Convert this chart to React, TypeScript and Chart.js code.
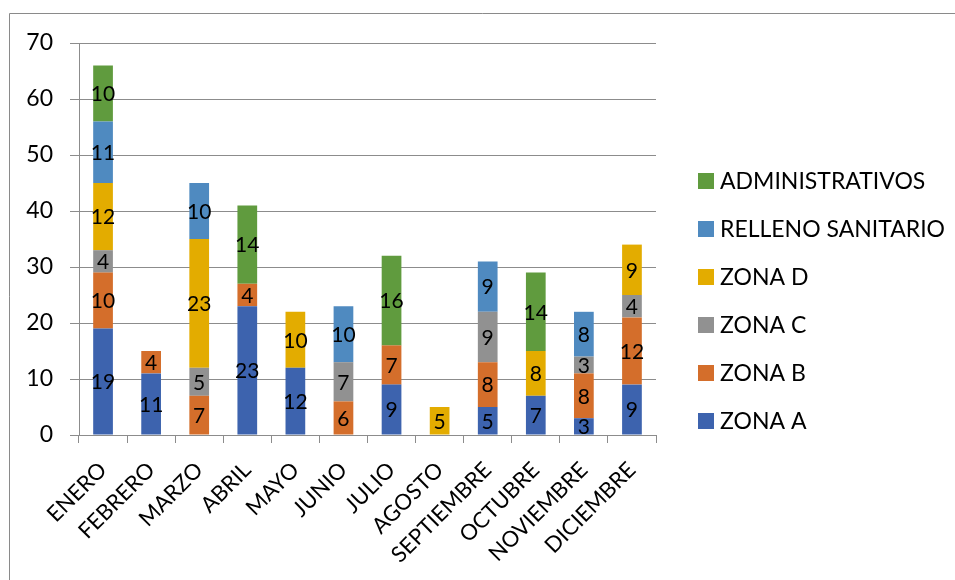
import React, { useEffect, useRef } from "react";
import { Chart, registerables } from "chart.js";

Chart.register(...registerables);

const months = ["ENERO", "FEBRERO", "MARZO", "ABRIL", "MAYO", "JUNIO", "JULIO", "AGOSTO", "SEPTIEMBRE", "OCTUBRE", "NOVIEMBRE", "DICIEMBRE"];
const zonaA = [19, 11, 0, 23, 12, 0, 9, 0, 5, 7, 3, 9];
const zonaB = [10, 4, 7, 4, 0, 6, 7, 0, 8, 0, 8, 12];
const zonaC = [4, 0, 5, 0, 0, 7, 0, 0, 9, 0, 3, 4];
const zonaD = [12, 0, 23, 0, 10, 0, 0, 5, 0, 8, 0, 9];
const relleno = [11, 0, 10, 0, 0, 10, 0, 0, 9, 0, 8, 0];
const administrativos = [10, 0, 0, 14, 0, 0, 16, 0, 0, 14, 0, 0];
const yTicks = [0, 10, 20, 30, 40, 50, 60, 70];

const FONT = "Lato, 'Open Sans', sans-serif";
const GRID = "#8c8c8c";

const seriesDefs = [
  { label: "ZONA A", data: zonaA, color: "#3D63AE" },
  { label: "ZONA B", data: zonaB, color: "#D46E2B" },
  { label: "ZONA C", data: zonaC, color: "#919191" },
  { label: "ZONA D", data: zonaD, color: "#E3AC00" },
  { label: "RELLENO SANITARIO", data: relleno, color: "#4F8AC0" },
  { label: "ADMINISTRATIVOS", data: administrativos, color: "#609B3E" },
];

const framePlugin = {
  id: "frame",
  beforeDraw(chart: any) {
    const ctx = chart.ctx;
    ctx.save();
    ctx.fillStyle = "#ffffff";
    ctx.fillRect(0, 0, chart.width, chart.height);
    ctx.strokeStyle = "#8a8a8a";
    ctx.lineWidth = 1;
    ctx.beginPath();
    ctx.moveTo(9.5, chart.height);
    ctx.lineTo(9.5, 13.5);
    ctx.lineTo(chart.width, 13.5);
    ctx.stroke();
    ctx.restore();
  },
};

const valueLabelPlugin = {
  id: "valueLabels",
  afterDatasetsDraw(chart: any) {
    const ctx = chart.ctx;
    ctx.save();
    ctx.font = `21px ${FONT}`;
    ctx.fillStyle = "#000000";
    ctx.textAlign = "center";
    ctx.textBaseline = "middle";
    chart.data.datasets.forEach((ds: any, di: number) => {
      const meta = chart.getDatasetMeta(di);
      meta.data.forEach((el: any, i: number) => {
        const v = ds.data[i];
        if (!v) return;
        const y = (el.y + el.base) / 2;
        ctx.fillText(String(v), el.x, y + 1);
      });
    });
    ctx.restore();
  },
};

const legendPlugin = {
  id: "customLegend",
  afterDraw(chart: any) {
    const ctx = chart.ctx;
    const items = [...chart.data.datasets].reverse();
    const x0 = 698;
    const top = 181;
    const step = 48;
    ctx.save();
    ctx.font = `23px ${FONT}`;
    ctx.textAlign = "left";
    ctx.textBaseline = "middle";
    items.forEach((ds: any, i: number) => {
      const cy = top + i * step;
      ctx.fillStyle = ds.backgroundColor;
      ctx.fillRect(x0, cy - 8, 16, 16);
      ctx.fillStyle = "#000000";
      ctx.fillText(ds.label, x0 + 22, cy + 1);
    });
    ctx.restore();
  },
};

export default function App() {
  const ref = useRef<HTMLCanvasElement | null>(null);
  useEffect(() => {
    if (!ref.current) return;
    const chart = new Chart(ref.current, {
      type: "bar",
      data: {
        labels: months,
        datasets: seriesDefs.map((s) => ({
          label: s.label,
          data: s.data,
          backgroundColor: s.color,
          borderWidth: 0,
          barPercentage: 0.41,
          categoryPercentage: 1,
        })),
      },
      options: {
        responsive: false,
        animation: false,
        layout: { padding: { left: 0, top: 43, right: 299, bottom: 0 } },
        plugins: {
          legend: { display: false },
          tooltip: { enabled: false },
          title: { display: false },
        },
        scales: {
          x: {
            stacked: true,
            afterFit(scale: any) {
              scale.height = 145;
            },
            grid: {
              display: true,
              drawOnChartArea: false,
              drawTicks: true,
              tickLength: 8,
              color: GRID,
              offset: true,
            },
            border: { display: true, color: GRID },
            ticks: {
              autoSkip: false,
              maxRotation: 45,
              minRotation: 45,
              color: "#000000",
              padding: 14,
              font: { family: FONT, size: 22 },
            },
          },
          y: {
            stacked: true,
            min: 0,
            max: 70,
            afterFit(scale: any) {
              scale.width = 79;
            },
            afterBuildTicks(scale: any) {
              scale.ticks = yTicks.map((v) => ({ value: v }));
            },
            grid: {
              color: GRID,
              tickLength: 9,
              drawTicks: true,
            },
            border: { display: true, color: GRID },
            ticks: {
              color: "#000000",
              padding: 17,
              font: { family: FONT, size: 23 },
            },
          },
        },
      },
      plugins: [framePlugin, valueLabelPlugin, legendPlugin],
    });
    return () => chart.destroy();
  }, []);
  return (
    <div style={{ position: "fixed", left: 0, top: 0, width: 955, height: 580, background: "#fff" }}>
      <canvas ref={ref} width={955} height={580} style={{ width: 955, height: 580, display: "block" }} />
    </div>
  );
}
